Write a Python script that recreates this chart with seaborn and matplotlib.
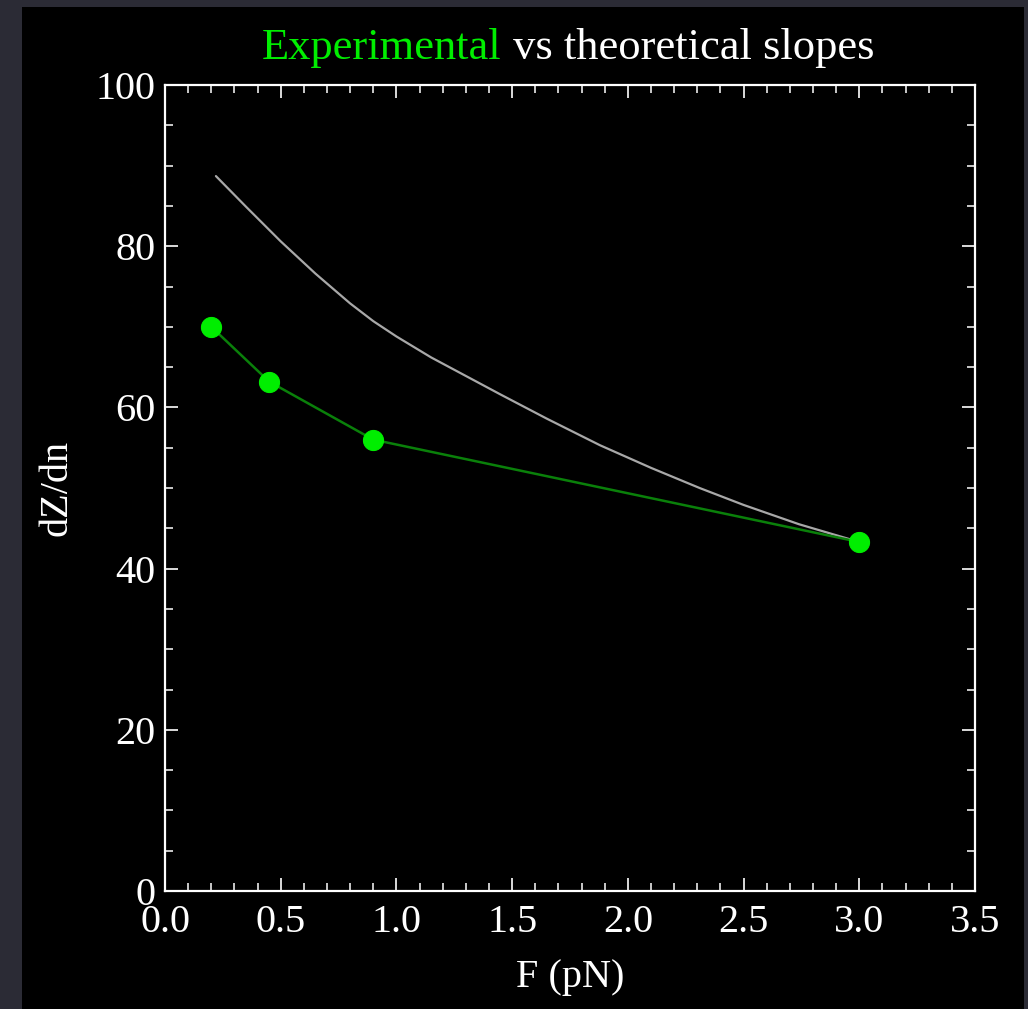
import numpy as np
import pandas as pd
import matplotlib
matplotlib.use("Agg")
import matplotlib.pyplot as plt
from matplotlib.patches import Rectangle
from matplotlib.ticker import MultipleLocator
import seaborn as sns

# --- data ---
exp_force = [0.2, 0.45, 0.9, 3.0]
exp_slope = [70.0, 63.2, 56.0, 43.3]

theo_force = [0.22, 0.35, 0.5, 0.65, 0.8, 0.9, 1.0, 1.15, 1.3, 1.45, 1.65,
              1.88, 2.1, 2.31, 2.5, 2.74, 3.0]
theo_slope = [88.7, 84.9, 80.6, 76.6, 72.9, 70.7, 68.8, 66.2, 63.9, 61.6, 58.6,
              55.3, 52.5, 50.0, 47.9, 45.5, 43.3]

x_ticks = [0.0, 0.5, 1.0, 1.5, 2.0, 2.5, 3.0, 3.5]
y_ticks = [0, 20, 40, 60, 80, 100]

exp_df = pd.DataFrame({"F": exp_force, "slope": exp_slope})
theo_df = pd.DataFrame({"F": theo_force, "slope": theo_slope})

sns.set_style("dark")
plt.rcParams["font.family"] = ["Liberation Serif", "DejaVu Serif"]

fig = plt.figure(figsize=(10.28, 10.09), dpi=100, facecolor="#2b2b35")
# black panel inside the grey frame
fig.patches.append(Rectangle((22 / 1028, 0), (1024 - 22) / 1028, 1 - 7 / 1009,
                             transform=fig.transFigure, facecolor="black",
                             edgecolor="none", zorder=-10))
ax = fig.add_axes([165 / 1028, 1 - 891 / 1009, 810 / 1028, 806 / 1009])
ax.set_facecolor("black")

sns.lineplot(data=theo_df, x="F", y="slope", ax=ax, color="#a8a8a8",
             linewidth=1.6, sort=False)
sns.lineplot(data=exp_df, x="F", y="slope", ax=ax, color="#0a800a",
             linewidth=1.8, marker="o", markersize=14.5,
             markerfacecolor="#00ee00", markeredgecolor="#00ee00", sort=False)

ax.set_xlim(0, 3.5)
ax.set_ylim(0, 100)
ax.set_xticks(x_ticks)
ax.set_yticks(y_ticks)
ax.set_xticklabels([f"{v:.1f}" for v in x_ticks])
ax.set_yticklabels([str(v) for v in y_ticks])
ax.xaxis.set_minor_locator(MultipleLocator(0.1))
ax.yaxis.set_minor_locator(MultipleLocator(5))
ax.grid(False)

for s in ax.spines.values():
    s.set_visible(True)
    s.set_color("white")
    s.set_linewidth(1.6)

ax.tick_params(which="both", direction="in", top=True, right=True,
               bottom=True, left=True, colors="white")
ax.tick_params(which="major", length=9.5, width=1.2, labelsize=29, pad=9)
ax.tick_params(axis="y", which="major", pad=7)
ax.tick_params(which="minor", length=5.5, width=1.1)

ax.set_xlabel("F (pN)", color="white", fontsize=29, labelpad=13)
ax.set_ylabel("dZ/dn", color="white", fontsize=29, labelpad=14)

# two-coloured title
t1 = ax.text(0.12, 1.0320, "Experimental", transform=ax.transAxes,
             color="#00ee00", fontsize=32, ha="left", va="baseline")
ax.annotate(" vs theoretical slopes", xy=(1, 0), xycoords=t1,
            color="white", fontsize=32, ha="left", va="bottom")

fig.savefig("out.png", dpi=100, facecolor=fig.get_facecolor())
